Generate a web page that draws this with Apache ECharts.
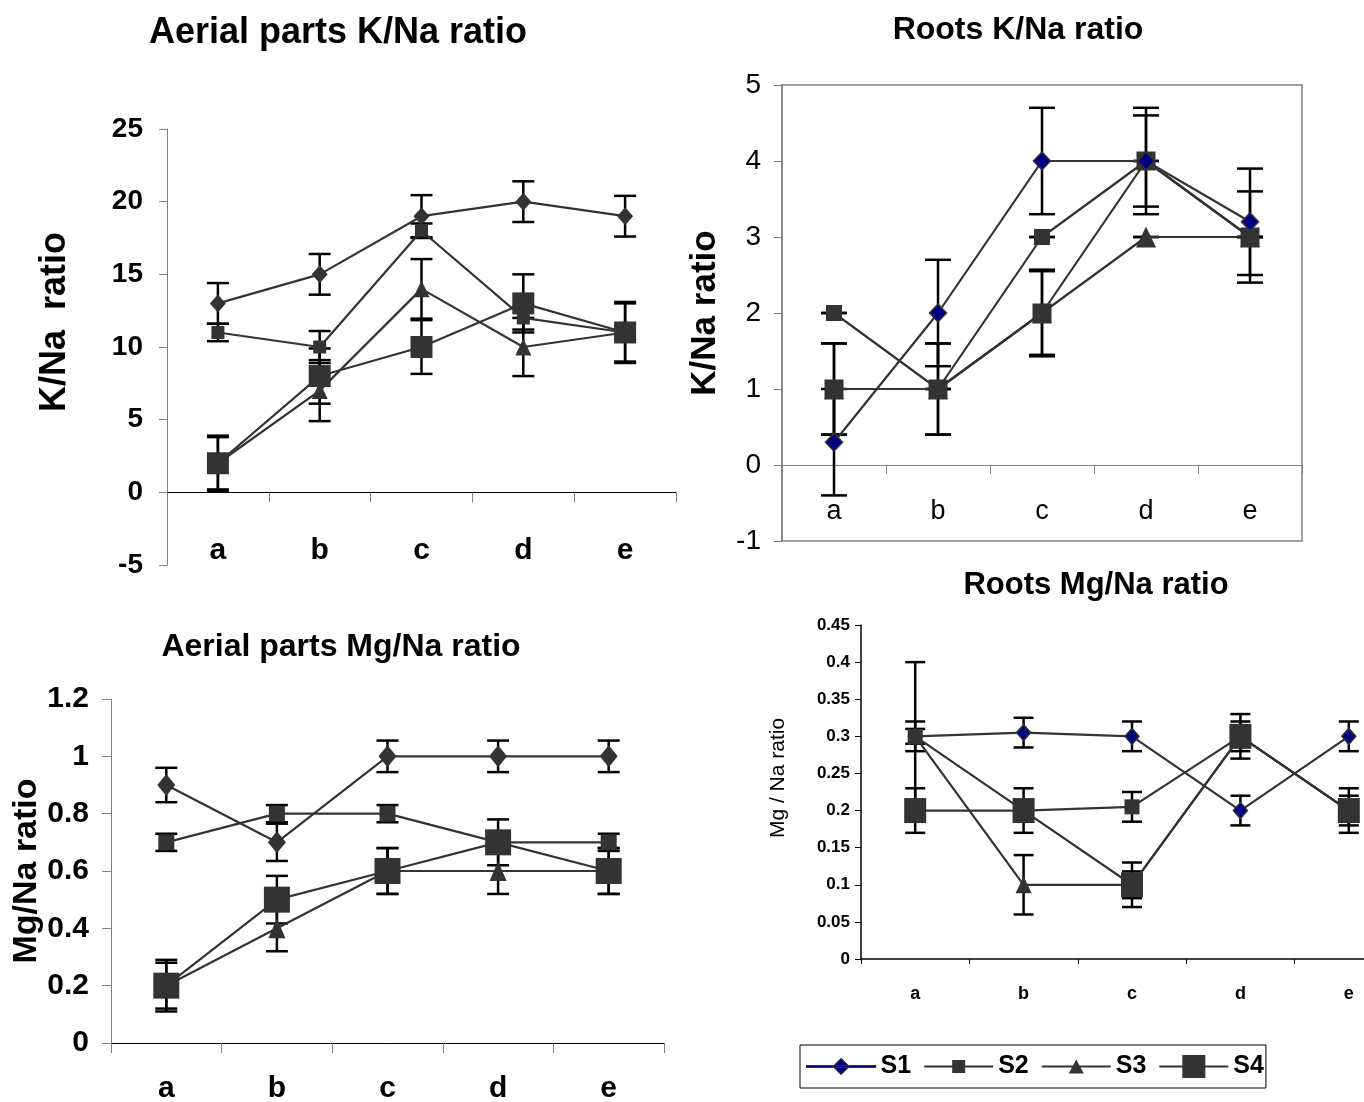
<!DOCTYPE html>
<html><head><meta charset="utf-8">
<script src="https://cdn.jsdelivr.net/npm/echarts@6/dist/echarts.min.js"></script>
<style>html,body{margin:0;padding:0;background:#fff}#c{width:1364px;height:1102px}</style>
</head><body><div id="c"></div>
<script>
const categories = ['a', 'b', 'c', 'd', 'e'];
const seriesNames = ['S1', 'S2', 'S3', 'S4'];

// Aerial parts K/Na ratio
const aerialK_yTicks = [-5, 0, 5, 10, 15, 20, 25];
const aerialK_S1 = [13, 15, 19, 20, 19];
const aerialK_S2 = [11, 10, 18, 12, 11];
const aerialK_S3 = [2, 7, 14, 10, 11];
const aerialK_S4 = [2, 8, 10, 13, 11];
const aerialK_S1_err = [1.4, 1.4, 1.45, 1.4, 1.4];
const aerialK_S2_err = [0.6, 1.1, 0.5, 0.8, 0.5];
const aerialK_S3_err = [1.8, 2.1, 2.05, 2.0, 2.1];
const aerialK_S4_err = [1.9, 1.9, 1.85, 2.0, 2.0];

// Roots K/Na ratio
const rootsK_yTicks = [-1, 0, 1, 2, 3, 4, 5];
const rootsK_S1 = [0.3, 2, 4, 4, 3.2];
const rootsK_S2 = [2, 1, 3, 4, 3];
const rootsK_S3 = [1, 1, 2, 3, 3];
const rootsK_S4 = [1, 1, 2, 4, 3];
const rootsK_S1_err = [0.7, 0.7, 0.7, 0.7, 0.7];
const rootsK_S2_err = [0, 0, 0, 0, 0];
const rootsK_S3_err = [0.6, 0.6, 0.55, 0, 0];
const rootsK_S4_err = [0.6, 0.6, 0.57, 0.6, 0.6];

// Aerial parts Mg/Na ratio
const aerialMg_yTicks = [0, 0.2, 0.4, 0.6, 0.8, 1, 1.2];
const aerialMg_S1 = [0.9, 0.7, 1, 1, 1];
const aerialMg_S2 = [0.7, 0.8, 0.8, 0.7, 0.7];
const aerialMg_S3 = [0.2, 0.4, 0.6, 0.6, 0.6];
const aerialMg_S4 = [0.2, 0.5, 0.6, 0.7, 0.6];
const aerialMg_S1_err = [0.06, 0.065, 0.055, 0.055, 0.055];
const aerialMg_S2_err = [0.03, 0.03, 0.03, 0.03, 0.03];
const aerialMg_S3_err = [0.08, 0.08, 0.08, 0.08, 0.08];
const aerialMg_S4_err = [0.09, 0.083, 0.08, 0.08, 0.08];

// Roots Mg/Na ratio
const rootsMg_yTicks = [0, 0.05, 0.1, 0.15, 0.2, 0.25, 0.3, 0.35, 0.4, 0.45];
const rootsMg_S1 = [0.3, 0.305, 0.3, 0.2, 0.3];
const rootsMg_S2 = [0.3, 0.2, 0.205, 0.3, 0.2];
const rootsMg_S3 = [0.3, 0.1, 0.1, 0.3, 0.2];
const rootsMg_S4 = [0.2, 0.2, 0.1, 0.3, 0.2];
const rootsMg_S1_err = [0.01, 0.02, 0.02, 0.02, 0.02];
const rootsMg_S2_err = [0.02, 0.01, 0.02, 0.02, 0.02];
const rootsMg_S3_err = [0.1, 0.04, 0.018, 0.01, 0.01];
const rootsMg_S4_err = [0.03, 0.03, 0.03, 0.03, 0.03];

const FONT = '"Liberation Sans", Arial, Helvetica, sans-serif';
const LINE = '#333333';

const panels = [
  { vals: [aerialK_S1, aerialK_S2, aerialK_S3, aerialK_S4],
    errs: [aerialK_S1_err, aerialK_S2_err, aerialK_S3_err, aerialK_S4_err],
    sizes: [[16, 18], 13, [16, 17], 22], diamond: LINE, cap: 11, zs: [3, 3, 3, 3] },
  { vals: [rootsK_S1, rootsK_S2, rootsK_S3, rootsK_S4],
    errs: [rootsK_S1_err, rootsK_S2_err, rootsK_S3_err, rootsK_S4_err],
    sizes: [[17, 18], 16, [20, 21], 19], diamond: '#000080', cap: 13, zs: [5, 3, 4, 3] },
  { vals: [aerialMg_S1, aerialMg_S2, aerialMg_S3, aerialMg_S4],
    errs: [aerialMg_S1_err, aerialMg_S2_err, aerialMg_S3_err, aerialMg_S4_err],
    sizes: [[18, 22], 16, [17, 20], 26], diamond: LINE, cap: 11, zs: [3, 3, 3, 3] },
  { vals: [rootsMg_S1, rootsMg_S2, rootsMg_S3, rootsMg_S4],
    errs: [rootsMg_S1_err, rootsMg_S2_err, rootsMg_S3_err, rootsMg_S4_err],
    sizes: [[14, 16], 15, [16, 17], [22, 25]], diamond: '#000080', cap: 10, zs: [3, 3, 3, 3] }
];
const symbols = ['diamond', 'rect', 'triangle', 'rect'];

const series = [];
panels.forEach((p, g) => {
  p.vals.forEach((vals, k) => {
    const errs = p.errs[k];
    series.push({
      type: 'custom', name: seriesNames[k] + '_err', xAxisIndex: g, yAxisIndex: g,
      z: 1, silent: true, clip: false,
      data: vals.map((v, i) => [i, v - errs[i], v + errs[i]]),
      encode: { x: 0, y: [1, 2] },
      renderItem: (params, api) => {
        const i = api.value(0);
        const lo = api.coord([i, api.value(1)]);
        const hi = api.coord([i, api.value(2)]);
        const w = p.cap;
        const st = { stroke: '#000', lineWidth: 2.5 };
        return { type: 'group', children: [
          { type: 'line', shape: { x1: lo[0], y1: lo[1], x2: hi[0], y2: hi[1] }, style: st },
          { type: 'line', shape: { x1: lo[0] - w, y1: lo[1], x2: lo[0] + w, y2: lo[1] }, style: st },
          { type: 'line', shape: { x1: hi[0] - w, y1: hi[1], x2: hi[0] + w, y2: hi[1] }, style: st }
        ]};
      }
    });
  });
  p.vals.forEach((vals, k) => {
    const isDiamond = k === 0;
    series.push({
      type: 'line', name: seriesNames[k], xAxisIndex: g, yAxisIndex: g, z: p.zs[k],
      data: vals, symbol: symbols[k], symbolSize: p.sizes[k], showAllSymbol: true,
      lineStyle: { color: LINE, width: 2.2 },
      itemStyle: isDiamond ? { color: p.diamond, borderColor: LINE, borderWidth: p.diamond === LINE ? 0 : 1.5 }
                           : { color: LINE, borderWidth: 0 },
      emphasis: { disabled: true }, silent: true, clip: false
    });
  });
});

function yAx(g, ticks, o) {
  return Object.assign({
    gridIndex: g, type: 'value', min: ticks[0], max: ticks[ticks.length - 1],
    interval: ticks[1] - ticks[0], splitLine: { show: false },
    nameLocation: 'middle'
  }, o);
}
// x axis sits at value 0: offset from the grid bottom, in pixels
function zeroOffset(ticks, h) {
  const min = ticks[0], max = ticks[ticks.length - 1];
  return -((0 - min) / (max - min)) * h;
}

const lineBar = 'M0 11 L69 11 L69 13 L0 13 Z ';
const titleStyle = (fs) => ({ fontSize: fs, lineHeight: fs, fontWeight: 'bold', color: '#000', fontFamily: FONT });
const option = {
  animation: false,
  backgroundColor: '#fff',
  textStyle: { fontFamily: FONT },
  title: [
    { text: 'Aerial parts K/Na ratio', left: 338, top: 15, textAlign: 'center', padding: 0, textStyle: titleStyle(36) },
    { text: 'Roots K/Na ratio', left: 1018, top: 14, textAlign: 'center', padding: 0, textStyle: titleStyle(32) },
    { text: 'Aerial parts Mg/Na ratio', left: 341, top: 631, textAlign: 'center', padding: 0, textStyle: titleStyle(32) },
    { text: 'Roots Mg/Na ratio', left: 1096, top: 570, textAlign: 'center', padding: 0, textStyle: titleStyle(31) }
  ],
  legend: {
    left: 800, top: 1045, orient: 'horizontal', selectedMode: false,
    padding: [9, 2, 9, 6], itemWidth: 69, itemHeight: 24, itemGap: 13,
    borderColor: '#000', borderWidth: 1,
    textStyle: { fontSize: 25, fontWeight: 'bold', color: '#000', fontFamily: FONT },
    data: [
      { name: 'S1', icon: 'path://' + lineBar + 'M34.5 4 L42.5 12 L34.5 20 L26.5 12 Z',
        itemStyle: { color: '#000080', borderColor: LINE, borderWidth: 1.2 } },
      { name: 'S2', icon: 'path://' + lineBar + 'M28 5.5 L41 5.5 L41 18.5 L28 18.5 Z',
        itemStyle: { color: LINE, borderWidth: 0 } },
      { name: 'S3', icon: 'path://' + lineBar + 'M34.5 5 L42 19 L27 19 Z',
        itemStyle: { color: LINE, borderWidth: 0 } },
      { name: 'S4', icon: 'path://' + lineBar + 'M23 0.5 L46 0.5 L46 23.5 L23 23.5 Z',
        itemStyle: { color: LINE, borderWidth: 0 } }
    ]
  },
  grid: [
    { left: 167, top: 129, width: 509, height: 436, outerBoundsMode: 'none' },
    { left: 782, top: 85, width: 520, height: 456, show: true, borderColor: '#808080', borderWidth: 1.5, outerBoundsMode: 'none' },
    { left: 111, top: 699, width: 553, height: 344, outerBoundsMode: 'none' },
    { left: 861, top: 625, width: 542, height: 334, outerBoundsMode: 'none' }
  ],
  xAxis: [
    { gridIndex: 0, type: 'category', data: categories, offset: zeroOffset(aerialK_yTicks, 436),
      axisLine: { onZero: false, lineStyle: { color: '#000', width: 1 } },
      axisTick: { show: true, length: 10, lineStyle: { color: '#808080' } },
      axisLabel: { interval: 0, margin: 43, fontSize: 30, fontWeight: 'bold', color: '#000' } },
    { gridIndex: 1, type: 'category', data: categories, offset: zeroOffset(rootsK_yTicks, 456),
      axisLine: { onZero: false, lineStyle: { color: '#808080', width: 1 } },
      axisTick: { show: true, length: 9, lineStyle: { color: '#808080' } },
      axisLabel: { interval: 0, margin: 33, fontSize: 27, color: '#000' } },
    { gridIndex: 2, type: 'category', data: categories,
      axisLine: { lineStyle: { color: '#000', width: 1 } },
      axisTick: { show: true, length: 10, lineStyle: { color: '#808080' } },
      axisLabel: { interval: 0, margin: 31, fontSize: 30, fontWeight: 'bold', color: '#000' } },
    { gridIndex: 3, type: 'category', data: categories,
      axisLine: { lineStyle: { color: '#000', width: 1.5 } },
      axisTick: { show: true, length: 5, lineStyle: { color: '#000' } },
      axisLabel: { interval: 0, margin: 26, fontSize: 18, fontWeight: 'bold', color: '#000' } }
  ],
  yAxis: [
    yAx(0, aerialK_yTicks, {
      axisLine: { show: true, lineStyle: { color: '#808080', width: 1 } },
      axisTick: { show: true, length: 8, lineStyle: { color: '#808080' } },
      axisLabel: { margin: 24, fontSize: 28, fontWeight: 'bold', color: '#000' },
      name: 'K/Na  ratio', nameGap: 94,
      nameTextStyle: { fontSize: 36, fontWeight: 'bold', color: '#000', padding: [0, 0, 0, 50] } }),
    yAx(1, rootsK_yTicks, {
      axisLine: { show: true, lineStyle: { color: '#808080', width: 1.5 } },
      axisTick: { show: true, length: 8, lineStyle: { color: '#808080' } },
      axisLabel: { margin: 21, fontSize: 28, color: '#000' },
      name: 'K/Na ratio', nameGap: 59,
      nameTextStyle: { fontSize: 35, fontWeight: 'bold', color: '#000' } }),
    yAx(2, aerialMg_yTicks, {
      axisLine: { show: true, lineStyle: { color: '#808080', width: 1 } },
      axisTick: { show: true, length: 9, lineStyle: { color: '#808080' } },
      axisLabel: { margin: 22, fontSize: 30, fontWeight: 'bold', color: '#000' },
      name: 'Mg/Na ratio', nameGap: 66,
      nameTextStyle: { fontSize: 34, fontWeight: 'bold', color: '#000' } }),
    yAx(3, rootsMg_yTicks, {
      axisLine: { show: true, lineStyle: { color: '#000', width: 1.5 } },
      axisTick: { show: true, length: 6, lineStyle: { color: '#000' } },
      axisLabel: { margin: 11, fontSize: 17, fontWeight: 'bold', color: '#000' },
      name: 'Mg / Na ratio', nameGap: 72,
      nameTextStyle: { fontSize: 21, color: '#000', padding: [0, 0, 0, 28] } })
  ],
  series: series
};

const chart = echarts.init(document.getElementById('c'), null, { renderer: 'canvas' });
chart.setOption(option);
</script>
</body></html>
